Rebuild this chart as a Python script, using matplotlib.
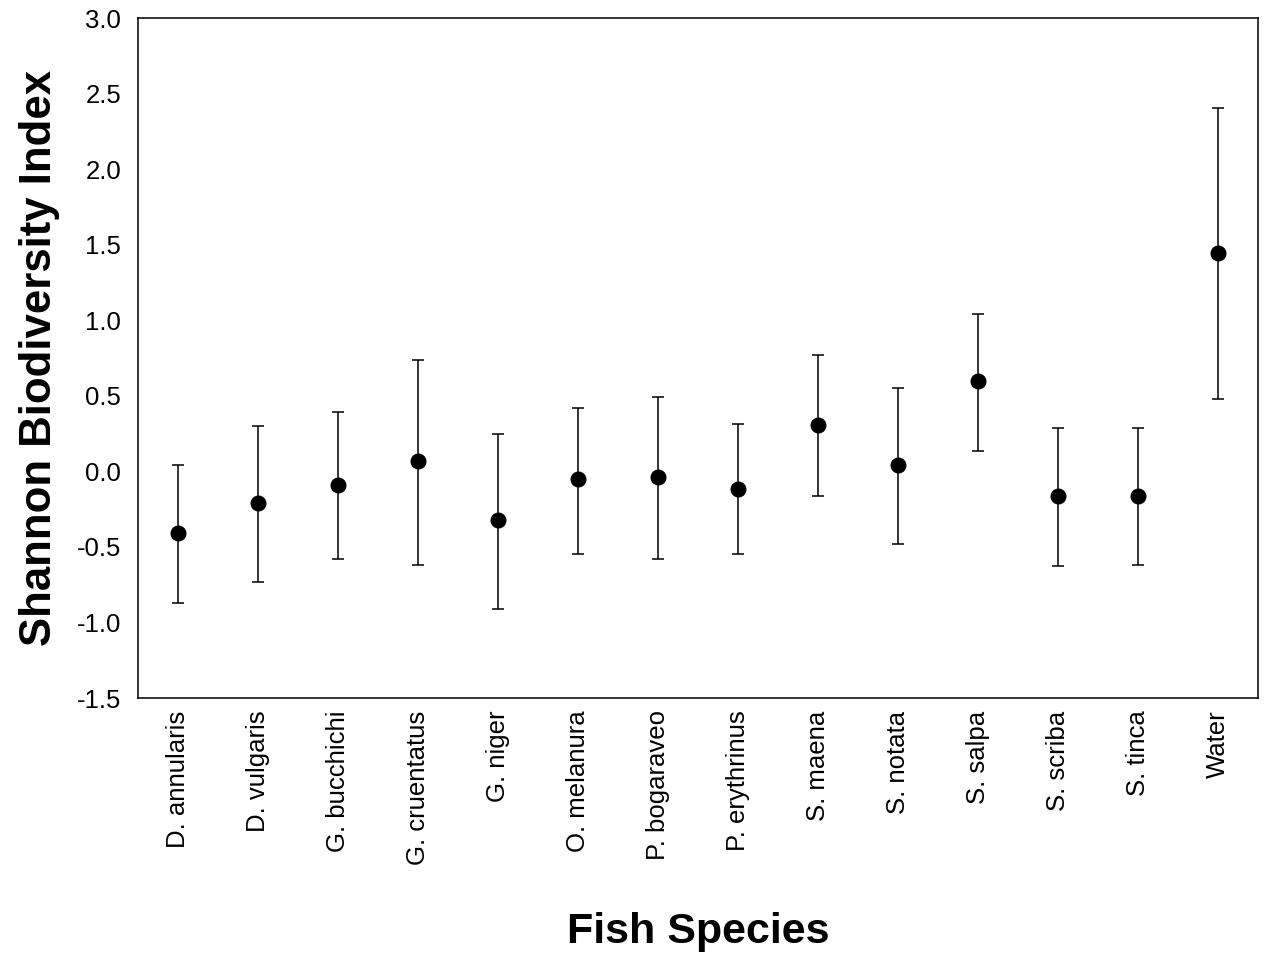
import matplotlib
matplotlib.use('Agg')
import matplotlib.pyplot as plt
import numpy as np

plt.rcParams['font.family'] = ['Liberation Sans', 'DejaVu Sans']

# 魚種ごとの Shannon 指数（平均値と誤差範囲の上下端）
species = ['D. annularis', 'D. vulgaris', 'G. bucchichi', 'G. cruentatus', 'G. niger',
           'O. melanura', 'P. bogaraveo', 'P. erythrinus', 'S. maena', 'S. notata',
           'S. salpa', 'S. scriba', 'S. tinca', 'Water']
mean_val = [-0.41, -0.21, -0.09, 0.07, -0.32, -0.05, -0.04, -0.12, 0.305, 0.04,
            0.60, -0.16, -0.16, 1.445]
upper_val = [0.04, 0.30, 0.39, 0.74, 0.25, 0.42, 0.49, 0.31, 0.77, 0.55,
             1.04, 0.29, 0.29, 2.405]
lower_val = [-0.87, -0.73, -0.58, -0.62, -0.91, -0.545, -0.58, -0.55, -0.165, -0.48,
             0.135, -0.625, -0.62, 0.48]

x = np.arange(len(species))
mean_arr = np.array(mean_val)
yerr = [mean_arr - np.array(lower_val), np.array(upper_val) - mean_arr]

fig = plt.figure(figsize=(12.69, 9.55), dpi=100)
ax = fig.add_axes([138/1269, 1 - 698/955, 1120/1269, 680/955])

ax.errorbar(x, mean_val, yerr=yerr, fmt='o', color='black', ecolor='black',
            markersize=10.5, elinewidth=1.1, capsize=4.5, capthick=1.1)

ax.set_xlim(-0.5, len(species) - 0.5)
ax.set_ylim(-1.5, 3.0)
ax.set_yticks(np.arange(-1.5, 3.01, 0.5))
ax.set_yticklabels(['%.1f' % v for v in np.arange(-1.5, 3.01, 0.5)])
ax.set_xticks(x)
ax.set_xticklabels(species, rotation=90)
ax.tick_params(axis='both', length=0, labelsize=18.5)
ax.tick_params(axis='y', pad=12)
ax.tick_params(axis='x', pad=9)
for sp in ax.spines.values():
    sp.set_linewidth(1.1)

ax.set_xlabel('Fish Species', fontsize=31, fontweight='bold')
ax.xaxis.set_label_coords(0.5, -0.314)
ax.set_ylabel('Shannon Biodiversity Index', fontsize=31.5, fontweight='bold', labelpad=12)

plt.savefig('out.png', dpi=100)
